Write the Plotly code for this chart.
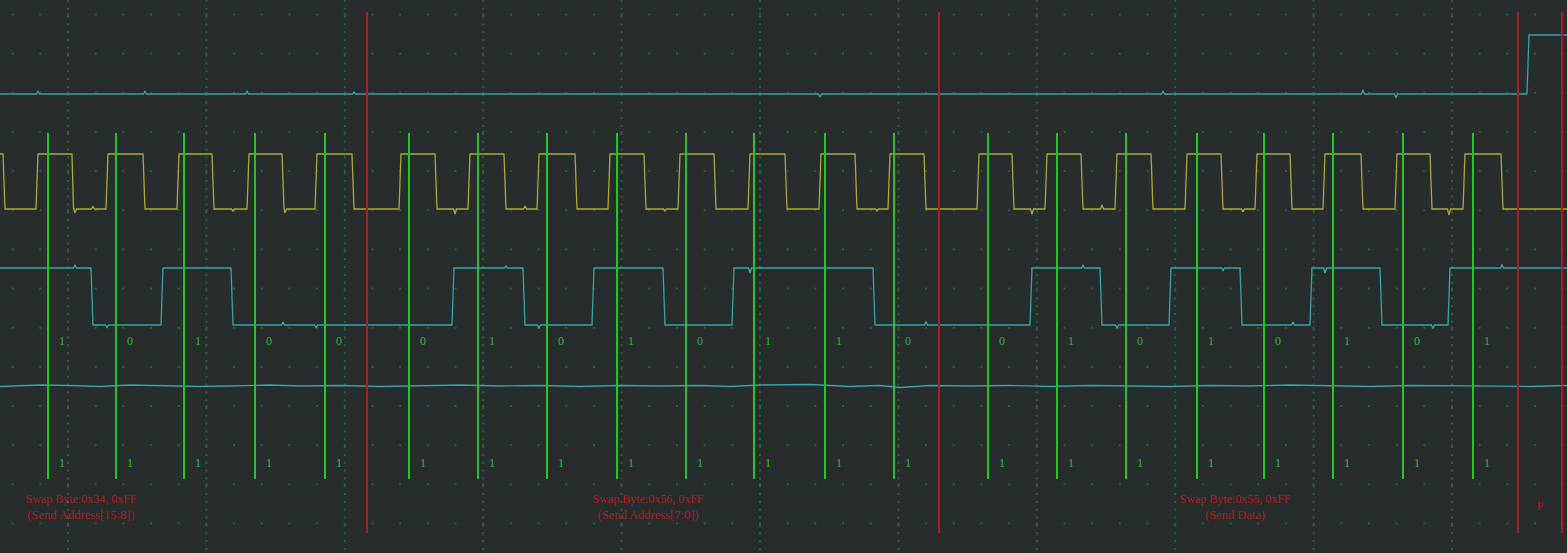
import numpy as np
import plotly.graph_objects as go

# ---------------- data read from the capture (x: sample position, y: screen level) -------------
X_END = 1567

# channel levels
CS_LOW, CS_HIGH = 94, 35
CLK_HIGH, CLK_LOW = 154, 209
MOSI_HIGH, MOSI_LOW = 268, 325

# CS rises at end of transfer
cs_edges = [1528]

# SCLK edges (starts high, first edge is a fall)
clk_edges = [4, 37, 73, 107, 144, 178, 213, 248, 283, 316, 353, 400, 436, 469, 505, 538,
             576, 609, 645, 679, 715, 749, 786, 820, 856, 889, 925, 978, 1013, 1046, 1082,
             1116, 1152, 1186, 1222, 1256, 1291, 1324, 1362, 1396, 1431, 1464, 1502]

# MOSI edges (starts high, first edge is a fall)
mosi_edges = [92, 162, 232, 453, 524, 593, 664, 733, 874, 1031, 1101, 1170, 1241, 1311,
              1381, 1449]

# small glitches (x, y)
cs_glitches = [(38, 91), (145, 91), (247, 91), (354, 92), (820, 97), (1163, 91),
               (1363, 90), (1396, 98)]
clk_glitches = [(75, 213), (93, 206.5), (233, 211), (285, 213), (455, 214), (525, 206),
                (665, 211), (877, 211), (1032, 214), (1102, 205), (1243, 212),
                (1449, 215)]
mosi_glitches = [(75, 265), (107, 327.5), (283, 322), (316, 328), (506, 266), (539, 328.5),
                 (750, 273), (926, 321.5), (1083, 265), (1117, 328.5), (1223, 270.5),
                 (1293, 322), (1325, 273), (1433, 328.5), (1502, 264.5)]

# MISO trace readings (x, y)
miso_x = [0, 20, 40, 70, 100, 130, 160, 200, 230, 270, 300, 340, 380, 420, 460, 500, 540,
          580, 620, 660, 700, 730, 760, 810, 850, 880, 900, 930, 970, 1010, 1050, 1090,
          1130, 1170, 1210, 1250, 1290, 1330, 1370, 1410, 1450, 1490, 1530, 1567]
miso_y = [386.5, 386.0, 385.0, 385.5, 386.5, 385.0, 385.5, 386.5, 386.0, 385.0, 386.0,
          385.5, 386.5, 385.5, 385.0, 386.0, 385.5, 386.5, 385.5, 386.0, 385.5, 386.5,
          385.0, 384.5, 386.5, 385.5, 387.5, 385.5, 386.0, 385.5, 386.5, 385.5, 386.0,
          386.5, 385.5, 386.0, 385.0, 386.0, 386.5, 385.5, 386.0, 386.0, 386.5, 385.5]

# decoder sample markers (one per SCLK rising edge)
sample_x = [48, 116, 184, 255, 325, 409, 478, 547, 617, 686, 754, 825, 894, 988, 1057,
            1126, 1197, 1264, 1333, 1403, 1473]
mosi_bits = ["1", "0", "1", "0", "0",
             "0", "1", "0", "1", "0", "1", "1", "0",
             "0", "1", "0", "1", "0", "1", "0", "1"]
miso_bits = ["1"] * 21

# frame boundaries
frame_x = [367, 939, 1518, 1562]

# decoded frame texts
frame_label_x = [81, 648, 1235]
frame_line1 = ["Swap Byte:0x34, 0xFF", "Swap Byte:0x56, 0xFF", "Swap Byte:0x55, 0xFF"]
frame_line2 = ["(Send Address[15:8])", "(Send Address[7:0])", "(Send Data)"]
stop_label_x = [1540]
stop_label = ["P"]

# ---------------- styling ----------------
BG = "#272c2d"
CYAN = "#3aa3a6"
YELLOW = "#aaa83c"
GREEN = "#25c425"
RED = "#b01a1c"
TEXT_GREEN = "#2fb534"
DOT = "#28603d"


def step_trace(start, other, edges, glitches):
    xs, ys = [0.0], [start]
    lvl = start
    for e in edges:
        new = other if lvl == start else start
        xs += [e - 1.0, e + 1.0]
        ys += [lvl, new]
        lvl = new
    xs.append(X_END)
    ys.append(lvl)
    xs, ys = np.array(xs), np.array(ys, dtype=float)
    gx, gy = [], []
    for x, y in glitches:
        base = float(np.interp(x, xs, ys))
        gx += [x - 1.5, x, x + 1.5]
        gy += [base, y, base]
    allx = np.concatenate([xs, gx])
    ally = np.concatenate([ys, gy])
    order = np.argsort(allx, kind="stable")
    return allx[order], ally[order]


fig = go.Figure()

# grid dots
row_y = [14.5 + 39.15 * k for k in range(14)]
minor_cols = [68 + 27.68 * k for k in range(-2, 55)]
major_cols = [68 + 138.4 * k for k in range(0, 11)]
gx, gy = [], []
for cx in minor_cols:
    for ry in row_y:
        gx.append(cx)
        gy.append(ry)
for cx in major_cols:
    for j in range(0, 71):
        gx.append(cx)
        gy.append(0.8 + 7.83 * j)
fig.add_trace(go.Scatter(x=gx, y=gy, mode="markers",
                         marker=dict(symbol="square", size=2, color=DOT, line=dict(width=0)),
                         hoverinfo="skip"))

# signal traces
cx_, cy_ = step_trace(CS_LOW, CS_HIGH, cs_edges, cs_glitches)
fig.add_trace(go.Scatter(x=cx_, y=cy_, mode="lines", line=dict(color=CYAN, width=1.3)))
kx, ky = step_trace(CLK_HIGH, CLK_LOW, clk_edges, clk_glitches)
fig.add_trace(go.Scatter(x=kx, y=ky, mode="lines", line=dict(color=YELLOW, width=1.3)))
mx, my = step_trace(MOSI_HIGH, MOSI_LOW, mosi_edges, mosi_glitches)
fig.add_trace(go.Scatter(x=mx, y=my, mode="lines", line=dict(color=CYAN, width=1.3)))
fig.add_trace(go.Scatter(x=miso_x, y=miso_y, mode="lines", line=dict(color=CYAN, width=1.3)))

# sample markers (green)
lx, ly = [], []
for s in sample_x:
    lx += [s, s, None]
    ly += [133, 479, None]
fig.add_trace(go.Scatter(x=lx, y=ly, mode="lines", line=dict(color=GREEN, width=2)))

# frame boundaries (red)
rx, ry = [], []
for f in frame_x:
    rx += [f, f, None]
    ry += [12, 533, None]
fig.add_trace(go.Scatter(x=rx, y=ry, mode="lines", line=dict(color=RED, width=2)))

# bit labels
font_txt = "Liberation Serif"
fig.add_trace(go.Scatter(x=[s + 14 for s in sample_x], y=[342] * len(sample_x),
                         mode="text", text=mosi_bits,
                         textfont=dict(family=font_txt, size=12, color=TEXT_GREEN)))
fig.add_trace(go.Scatter(x=[s + 14 for s in sample_x], y=[464] * len(sample_x),
                         mode="text", text=miso_bits,
                         textfont=dict(family=font_txt, size=12, color=TEXT_GREEN)))

# frame texts
fig.add_trace(go.Scatter(x=frame_label_x, y=[500] * 3, mode="text", text=frame_line1,
                         textfont=dict(family=font_txt, size=12, color=RED)))
fig.add_trace(go.Scatter(x=frame_label_x, y=[516] * 3, mode="text", text=frame_line2,
                         textfont=dict(family=font_txt, size=12.5, color=RED)))
fig.add_trace(go.Scatter(x=stop_label_x, y=[507], mode="text", text=stop_label,
                         textfont=dict(family=font_txt, size=12, color=RED)))

fig.update_traces(hoverinfo="skip")
fig.update_layout(
    width=1567, height=553,
    margin=dict(l=0, r=0, t=0, b=0, pad=0),
    paper_bgcolor=BG, plot_bgcolor=BG,
    showlegend=False,
    xaxis=dict(range=[0, X_END], visible=False, fixedrange=True),
    yaxis=dict(range=[553, 0], visible=False, fixedrange=True),
)

fig.write_html("out.html", config={"displayModeBar": False},
               post_script="document.body.style.margin='0';")
